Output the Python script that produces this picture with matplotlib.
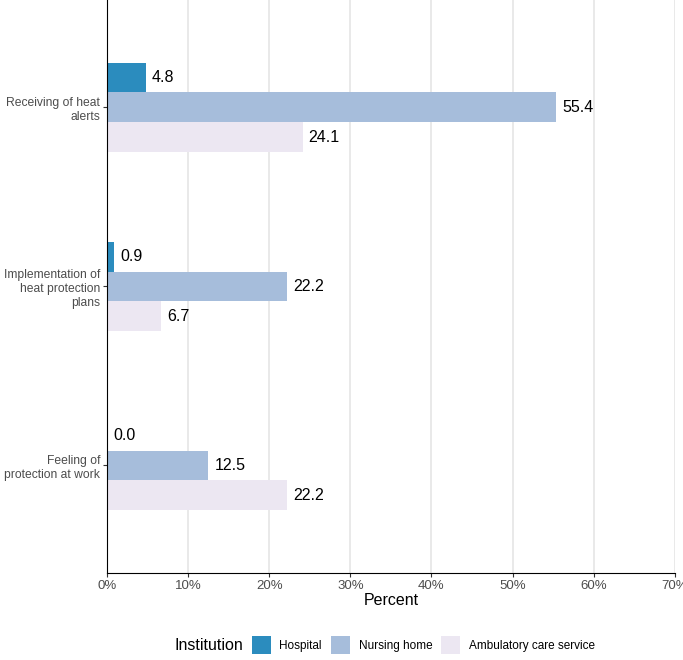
import numpy as np
import matplotlib.pyplot as plt
from matplotlib.patches import Patch

plt.rcParams['font.family'] = ['Liberation Sans', 'DejaVu Sans']

# data
categories = ['Receiving of heat\nalerts', 'Implementation of\nheat protection\nplans', 'Feeling of\nprotection at work']
institutions = ['Hospital', 'Nursing home', 'Ambulatory care service']
hospital = [4.8, 0.9, 0.0]
nursing_home = [55.4, 22.2, 12.5]
ambulatory = [24.1, 6.7, 22.2]
colors = ['#2b8cbe', '#a6bddb', '#ece7f2']

fig = plt.figure(figsize=(6.83, 6.60), dpi=100)
ax = fig.add_axes([0.1567, 0.132, 0.8313, 0.868])

pos = np.arange(1, len(categories) + 1)
h = 0.5 / 3
series = [hospital, nursing_home, ambulatory]
for i, (vals, col) in enumerate(zip(series, colors)):
    y = pos + (i - 1) * h
    ax.barh(y, vals, height=h, color=col, zorder=2)
    for yy, v in zip(y, vals):
        ax.text(v + 0.75, yy, f'{v:.1f}', va='center', ha='left', fontsize=11.5, color='black')

ax.set_ylim(3.6, 0.4)
ax.set_xlim(0, 70)
ax.set_yticks(pos)
ax.set_yticklabels(categories, fontsize=8.7, color='#4d4d4d', linespacing=1.2)
ax.set_xticks(np.arange(0, 71, 10))
ax.set_xticklabels([f'{t}%' for t in range(0, 71, 10)], fontsize=9.5, color='#4d4d4d')
ax.set_xlabel('Percent', fontsize=11.5, labelpad=1)

ax.grid(axis='x', color='#e5e5e5', linewidth=1.2, zorder=0)
ax.set_axisbelow(True)
for s in ['top', 'right']:
    ax.spines[s].set_visible(False)
ax.spines['left'].set_color('black')
ax.spines['bottom'].set_color('black')
ax.tick_params(axis='both', length=3, color='#333333', width=0.8, pad=2)

# legend at the bottom, title to the left
fig.text(175 / 683, 1 - 645 / 660, 'Institution', fontsize=11.5, ha='left', va='center')
handles = [Patch(facecolor=c, edgecolor='none') for c in colors]
fig.legend(handles, institutions, loc='center left', bbox_to_anchor=(247 / 683, 1 - 645 / 660), ncol=3,
           frameon=False, fontsize=8.5, handlelength=1.6, handleheight=2.0,
           columnspacing=0.75, handletextpad=0.75, borderaxespad=0)

fig.savefig('out.png', dpi=100)
